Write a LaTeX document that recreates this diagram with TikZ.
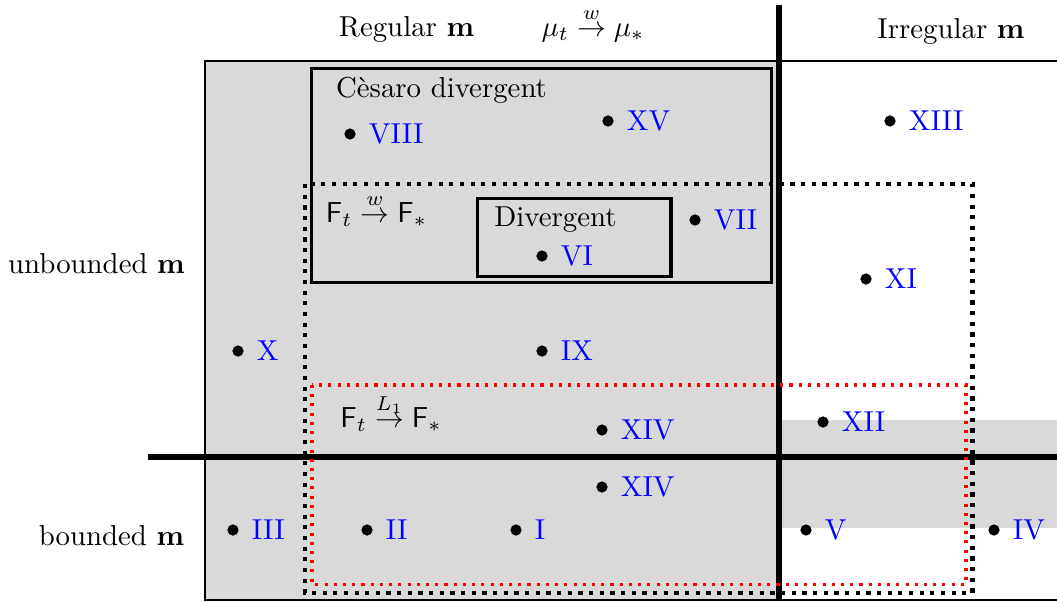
\documentclass[tikz,border=0pt]{standalone}
\usepackage{amsmath}
\begin{document}
\begin{tikzpicture}[x=0.347pt,y=-0.347pt,
  pdot/.style={circle,fill=black,inner sep=0pt,minimum size=3.9pt},
  ptlbl/.style={text=blue,label distance=0.9pt},
  thinframe/.style={line width=0.75pt},
  boxline/.style={line width=1.15pt},
  thickline/.style={line width=2.4pt},
  blackdots/.style={line width=1.45pt,dash pattern=on 1.45pt off 2.25pt},
  reddots/.style={red,line width=1.05pt,dash pattern=on 1.05pt off 2.15pt},
  txt/.style={inner sep=0pt}]
\useasboundingbox (0,0) rectangle (1057,601);
% backgrounds
\fill[black!15] (205,61) rectangle (779,600);
\fill[black!15] (779,420) rectangle (1057,528);
\draw[thinframe] (1057,61) -- (205,61) -- (205,600) -- (1057,600);
% thick axes
\draw[thickline] (779,5) -- (779,600);
\draw[thickline] (148,457) -- (1057,457);
% boxes
\draw[boxline] (311.5,68.5) rectangle (771.5,282.5);
\draw[boxline] (477.5,198.5) rectangle (671,276.5);
\draw[blackdots] (305,184) rectangle (972.5,593);
\draw[reddots] (312,385) rectangle (966,584.5);
% header texts
\node[txt,anchor=base] (reg) at (406.5,36) {Regular $\mathbf{m}$};
\node[txt,anchor=base] (mu) at (593,36) {$\mu_t \stackrel{w}{\to} \mu_*$};
\node[txt,anchor=base] (irr) at (951,38) {Irregular $\mathbf{m}$};
\node[txt,anchor=base] (unb) at (96.5,273) {unbounded $\mathbf{m}$};
\node[txt,anchor=base] (bnd) at (111.5,545) {bounded $\mathbf{m}$};
\node[txt,anchor=base] (ces) at (441.5,97) {C\`esaro divergent};
\node[txt,anchor=base] (fw) at (376.5,222) {$\mathsf{F}_t \stackrel{w}{\to} \mathsf{F}_*$};
\node[txt,anchor=base] (div) at (555.5,226) {Divergent};
\node[txt,anchor=base] (fl) at (391,427) {$\mathsf{F}_t \stackrel{L_1}{\to} \mathsf{F}_*$};
% points
\node[pdot,label={[ptlbl]right:VIII}] (p8) at (350,134) {};
\node[pdot,label={[ptlbl]right:XV}] (p15) at (608,121) {};
\node[pdot,label={[ptlbl]right:XIII}] (p13) at (890,121) {};
\node[pdot,label={[ptlbl]right:VII}] (p7) at (695,220) {};
\node[pdot,label={[ptlbl]right:VI}] (p6) at (542,256) {};
\node[pdot,label={[ptlbl]right:XI}] (p11) at (866,279) {};
\node[pdot,label={[ptlbl]right:X}] (p10) at (238,351) {};
\node[pdot,label={[ptlbl]right:IX}] (p9) at (542,351) {};
\node[pdot,label={[ptlbl]right:XIV}] (p14a) at (602,430) {};
\node[pdot,label={[ptlbl]right:XII}] (p12) at (823,422) {};
\node[pdot,label={[ptlbl]right:XIV}] (p14b) at (602,487) {};
\node[pdot,label={[ptlbl]right:III}] (p3) at (233,530) {};
\node[pdot,label={[ptlbl]right:II}] (p2) at (367,530) {};
\node[pdot,label={[ptlbl]right:I}] (p1) at (516,530) {};
\node[pdot,label={[ptlbl]right:V}] (p5) at (806,530) {};
\node[pdot,label={[ptlbl]right:IV}] (p4) at (994,530) {};
\end{tikzpicture}
\end{document}
